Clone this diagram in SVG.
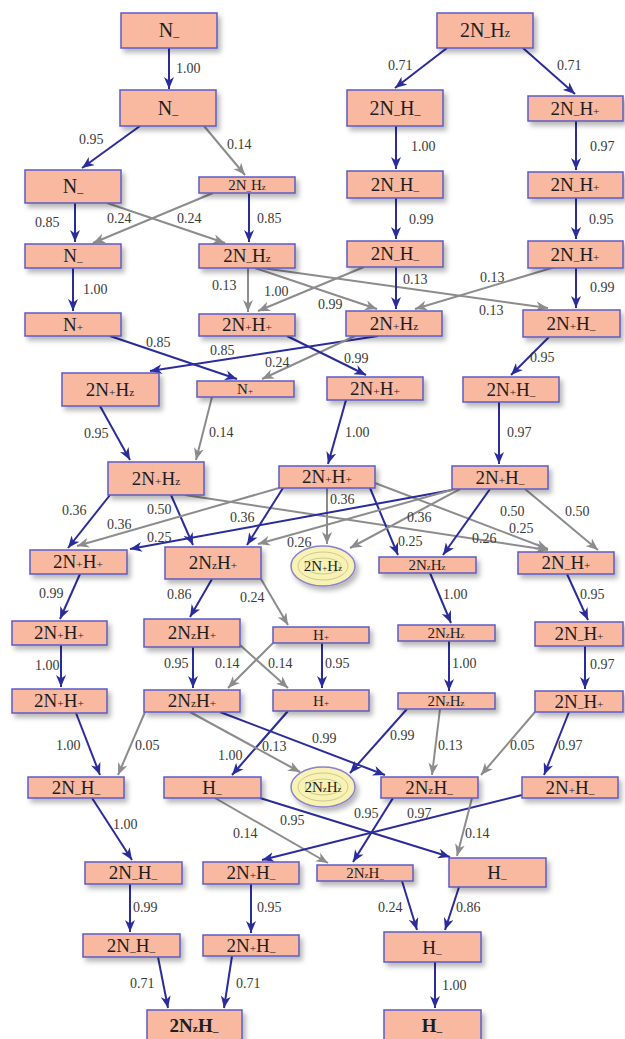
<svg xmlns="http://www.w3.org/2000/svg" width="625" height="1039" viewBox="0 0 625 1039">
<style>
text{font-family:"Liberation Serif","Times New Roman","DejaVu Serif",serif}
.node rect{fill:#f9b9a1;stroke:#5d5bc4;stroke-width:1.5;filter:url(#sh)}
.node ellipse.o{fill:#f8f3b4;stroke:#8a82cc;stroke-width:1.5;filter:url(#sh)}
.node ellipse.i{fill:none;stroke:#cfc88e;stroke-width:1}
.t{font-size:19px;text-anchor:middle;fill:#1e1e1e}
.big{font-size:20px}
.sm{font-size:15px}
.b{font-weight:bold}
.s{font-size:0.6em}
.eb{stroke:#2b2c9c;stroke-width:2;fill:none;marker-end:url(#ab)}
.eg{stroke:#8c8c8c;stroke-width:2;fill:none;marker-end:url(#ag)}
.l{font-size:14px;fill:#3a3a3a}
</style>
<defs>
<filter id="sh" x="-20%" y="-30%" width="150%" height="190%">
<feDropShadow dx="3" dy="4" stdDeviation="2.5" flood-color="#000" flood-opacity="0.28"/>
</filter>
<marker id="ab" markerUnits="userSpaceOnUse" markerWidth="12" markerHeight="10" refX="12" refY="5" orient="auto"><path d="M0,0 L12,5 L0,10 L3.5,5 Z" fill="#2b2c9c"/></marker>
<marker id="ag" markerUnits="userSpaceOnUse" markerWidth="12" markerHeight="10" refX="12" refY="5" orient="auto"><path d="M0,0 L12,5 L0,10 L3.5,5 Z" fill="#8c8c8c"/></marker>
</defs>

<g id="connectors" font-family="Liberation Serif, serif">
<line class="eb" x1="169" y1="48" x2="169" y2="89"/><text class="l" x="176" y="73">1.00</text>
<line class="eb" x1="140" y1="126" x2="82" y2="168"/><text class="l" x="79" y="144">0.95</text>
<line class="eg" x1="204" y1="126" x2="245" y2="175"/><text class="l" x="227" y="149">0.14</text>
<line class="eb" x1="447" y1="48" x2="395" y2="88"/><text class="l" x="388" y="70">0.71</text>
<line class="eb" x1="523" y1="48" x2="575" y2="94"/><text class="l" x="557" y="70">0.71</text>
<line class="eb" x1="396" y1="126" x2="396" y2="169"/><text class="l" x="411" y="151">1.00</text>
<line class="eb" x1="576" y1="121" x2="576" y2="170"/><text class="l" x="590" y="151">0.97</text>
<line class="eb" x1="75" y1="203" x2="75" y2="242"/><text class="l" x="35" y="227">0.85</text>
<line class="eg" x1="107" y1="203" x2="225" y2="243"/><text class="l" x="177" y="223">0.24</text>
<line class="eg" x1="213" y1="193" x2="93" y2="243"/><text class="l" x="107" y="223">0.24</text>
<line class="eb" x1="249" y1="193" x2="249" y2="242"/><text class="l" x="257" y="223">0.85</text>
<line class="eb" x1="396" y1="198" x2="396" y2="239"/><text class="l" x="409" y="224">0.99</text>
<line class="eb" x1="576" y1="198" x2="576" y2="239"/><text class="l" x="589" y="224">0.95</text>
<line class="eb" x1="73" y1="268" x2="73" y2="311"/><text class="l" x="83" y="294">1.00</text>
<line class="eg" x1="248" y1="268" x2="248" y2="312"/><text class="l" x="212" y="290">0.13</text>
<line class="eg" x1="255" y1="268" x2="377" y2="309"/><text class="l" x="318" y="309">0.99</text>
<line class="eg" x1="262" y1="268" x2="548" y2="308"/><text class="l" x="479" y="315">0.13</text>
<line class="eg" x1="364" y1="267" x2="258" y2="311"/><text class="l" x="264" y="296">1.00</text>
<line class="eb" x1="396" y1="267" x2="396" y2="309"/><text class="l" x="403" y="284">0.13</text>
<line class="eg" x1="555" y1="267" x2="415" y2="309"/><text class="l" x="480" y="282">0.13</text>
<line class="eb" x1="576" y1="267" x2="576" y2="308"/><text class="l" x="590" y="292">0.99</text>
<line class="eb" x1="110" y1="336" x2="237" y2="379"/><text class="l" x="146" y="347">0.85</text>
<line class="eb" x1="378" y1="336" x2="150" y2="371"/><text class="l" x="210" y="355">0.85</text>
<line class="eg" x1="355" y1="336" x2="262" y2="379"/><text class="l" x="265" y="367">0.24</text>
<line class="eb" x1="287" y1="336" x2="366" y2="375"/><text class="l" x="344" y="363">0.99</text>
<line class="eb" x1="549" y1="337" x2="511" y2="375"/><text class="l" x="530" y="362">0.95</text>
<line class="eb" x1="100" y1="406" x2="130" y2="460"/><text class="l" x="84" y="438">0.95</text>
<line class="eg" x1="212" y1="397" x2="196" y2="460"/><text class="l" x="209" y="437">0.14</text>
<line class="eb" x1="346" y1="400" x2="328" y2="464"/><text class="l" x="345" y="437">1.00</text>
<line class="eb" x1="499" y1="402" x2="499" y2="464"/><text class="l" x="507" y="437">0.97</text>
<line class="eb" x1="110" y1="495" x2="68" y2="548"/><text class="l" x="62" y="515">0.36</text>
<line class="eb" x1="171" y1="495" x2="193" y2="545"/><text class="l" x="147" y="514">0.50</text>
<line class="eg" x1="185" y1="495" x2="548" y2="550"/><text class="l" x="472" y="543">0.26</text>
<line class="eg" x1="279" y1="488" x2="77" y2="546"/><text class="l" x="107" y="529">0.36</text>
<line class="eb" x1="283" y1="488" x2="247" y2="545"/><text class="l" x="230" y="522">0.36</text>
<line class="eg" x1="327" y1="488" x2="327" y2="544"/><text class="l" x="330" y="504">0.36</text>
<line class="eb" x1="370" y1="488" x2="398" y2="555"/><text class="l" x="398" y="546">0.25</text>
<line class="eg" x1="375" y1="483" x2="548" y2="549"/><text class="l" x="509" y="533">0.25</text>
<line class="eb" x1="452" y1="490" x2="130" y2="549"/><text class="l" x="147" y="542">0.25</text>
<line class="eg" x1="455" y1="489" x2="258" y2="544"/><text class="l" x="287" y="547">0.26</text>
<line class="eg" x1="460" y1="489" x2="350" y2="548"/><text class="l" x="407" y="522">0.36</text>
<line class="eb" x1="490" y1="489" x2="443" y2="555"/><text class="l" x="500" y="516">0.50</text>
<line class="eg" x1="525" y1="489" x2="598" y2="550"/><text class="l" x="565" y="516">0.50</text>
<line class="eb" x1="80" y1="574" x2="60" y2="619"/><text class="l" x="39" y="598">0.99</text>
<line class="eb" x1="212" y1="579" x2="190" y2="617"/><text class="l" x="167" y="599">0.86</text>
<line class="eg" x1="261" y1="579" x2="288" y2="625"/><text class="l" x="240" y="602">0.24</text>
<line class="eb" x1="430" y1="573" x2="451" y2="623"/><text class="l" x="443" y="599">1.00</text>
<line class="eb" x1="567" y1="574" x2="588" y2="620"/><text class="l" x="580" y="599">0.95</text>
<line class="eb" x1="61" y1="645" x2="61" y2="687"/><text class="l" x="35" y="670">1.00</text>
<line class="eb" x1="193" y1="647" x2="193" y2="688"/><text class="l" x="164" y="668">0.95</text>
<line class="eg" x1="240" y1="645" x2="288" y2="688"/><text class="l" x="268" y="668">0.14</text>
<line class="eg" x1="273" y1="643" x2="228" y2="688"/><text class="l" x="215" y="668">0.14</text>
<line class="eb" x1="322" y1="643" x2="322" y2="688"/><text class="l" x="325" y="668">0.95</text>
<line class="eb" x1="449" y1="641" x2="449" y2="691"/><text class="l" x="452" y="668">1.00</text>
<line class="eb" x1="585" y1="646" x2="585" y2="689"/><text class="l" x="590" y="669">0.97</text>
<line class="eb" x1="76" y1="713" x2="100" y2="775"/><text class="l" x="56" y="750">1.00</text>
<line class="eg" x1="145" y1="712" x2="118" y2="775"/><text class="l" x="135" y="750">0.05</text>
<line class="eb" x1="288" y1="711" x2="232" y2="775"/><text class="l" x="218" y="760">1.00</text>
<line class="eg" x1="190" y1="712" x2="300" y2="772"/><text class="l" x="262" y="751">0.13</text>
<line class="eb" x1="220" y1="712" x2="385" y2="775"/><text class="l" x="312" y="743">0.99</text>
<line class="eb" x1="407" y1="709" x2="350" y2="773"/><text class="l" x="390" y="740">0.99</text>
<line class="eg" x1="440" y1="709" x2="432" y2="775"/><text class="l" x="438" y="750">0.13</text>
<line class="eg" x1="535" y1="712" x2="481" y2="775"/><text class="l" x="510" y="750">0.05</text>
<line class="eb" x1="569" y1="712" x2="544" y2="775"/><text class="l" x="558" y="750">0.97</text>
<line class="eb" x1="92" y1="798" x2="132" y2="860"/><text class="l" x="113" y="829">1.00</text>
<line class="eb" x1="260" y1="798" x2="450" y2="857"/><text class="l" x="280" y="825">0.95</text>
<line class="eg" x1="215" y1="798" x2="328" y2="863"/><text class="l" x="233" y="838">0.14</text>
<line class="eb" x1="393" y1="798" x2="353" y2="862"/><text class="l" x="354" y="818">0.95</text>
<line class="eb" x1="522" y1="795" x2="262" y2="860"/><text class="l" x="407" y="818">0.97</text>
<line class="eg" x1="472" y1="798" x2="457" y2="856"/><text class="l" x="465" y="838">0.14</text>
<line class="eb" x1="130" y1="884" x2="130" y2="932"/><text class="l" x="133" y="912">0.99</text>
<line class="eb" x1="251" y1="884" x2="251" y2="933"/><text class="l" x="257" y="912">0.95</text>
<line class="eb" x1="158" y1="957" x2="168" y2="1008"/><text class="l" x="130" y="988">0.71</text>
<line class="eb" x1="232" y1="956" x2="224" y2="1008"/><text class="l" x="236" y="988">0.71</text>
<line class="eb" x1="402" y1="881" x2="417" y2="930"/><text class="l" x="378" y="912">0.24</text>
<line class="eb" x1="459" y1="887" x2="445" y2="930"/><text class="l" x="456" y="912">0.86</text>
<line class="eb" x1="435" y1="962" x2="435" y2="1008"/><text class="l" x="442" y="990">1.00</text>
</g>

<g id="n1" class="node"><rect x="121" y="13" width="96" height="35"/><text class="t big" x="169" y="37">N<tspan class="s" dy="3">–</tspan></text></g>
<g id="n2" class="node"><rect x="437" y="13" width="96" height="35"/><text class="t big" x="485" y="37">2N<tspan class="s" dy="3">–</tspan><tspan dy="-3">H</tspan><tspan class="s">z</tspan></text></g>
<g id="n3" class="node"><rect x="120" y="90" width="96" height="36"/><text class="t big" x="168" y="115">N<tspan class="s" dy="3">–</tspan></text></g>
<g id="n4" class="node"><rect x="347" y="90" width="96" height="36"/><text class="t big" x="395" y="115">2N<tspan class="s" dy="3">–</tspan><tspan dy="-3">H</tspan><tspan class="s" dy="3">–</tspan></text></g>
<g id="n5" class="node"><rect x="528" y="96" width="95" height="25"/><text class="t" x="575" y="115">2N<tspan class="s" dy="3">–</tspan><tspan dy="-3">H</tspan><tspan class="s">+</tspan></text></g>
<g id="n6" class="node"><rect x="25" y="170" width="96" height="33"/><text class="t big" x="73" y="193">N<tspan class="s" dy="3">–</tspan></text></g>
<g id="n7" class="node"><rect x="199" y="177" width="96" height="16"/><text class="t sm" x="247" y="190">2N<tspan class="s" dy="3">–</tspan><tspan dy="-3">H</tspan><tspan class="s">z</tspan></text></g>
<g id="n8" class="node"><rect x="347" y="171" width="96" height="27"/><text class="t" x="395" y="191">2N<tspan class="s" dy="3">–</tspan><tspan dy="-3">H</tspan><tspan class="s" dy="3">–</tspan></text></g>
<g id="n9" class="node"><rect x="528" y="172" width="95" height="26"/><text class="t" x="575" y="191">2N<tspan class="s" dy="3">–</tspan><tspan dy="-3">H</tspan><tspan class="s">+</tspan></text></g>
<g id="n10" class="node"><rect x="25" y="244" width="96" height="24"/><text class="t" x="73" y="262">N<tspan class="s" dy="3">–</tspan></text></g>
<g id="n11" class="node"><rect x="199" y="244" width="96" height="24"/><text class="t" x="247" y="262">2N<tspan class="s" dy="3">–</tspan><tspan dy="-3">H</tspan><tspan class="s">z</tspan></text></g>
<g id="n12" class="node"><rect x="347" y="241" width="96" height="26"/><text class="t" x="395" y="260">2N<tspan class="s" dy="3">–</tspan><tspan dy="-3">H</tspan><tspan class="s" dy="3">–</tspan></text></g>
<g id="n13" class="node"><rect x="528" y="241" width="95" height="27"/><text class="t" x="575" y="261">2N<tspan class="s" dy="3">–</tspan><tspan dy="-3">H</tspan><tspan class="s">+</tspan></text></g>
<g id="n14" class="node"><rect x="25" y="313" width="96" height="23"/><text class="t" x="73" y="331">N<tspan class="s">+</tspan></text></g>
<g id="n15" class="node"><rect x="199" y="314" width="96" height="22"/><text class="t" x="247" y="331">2N<tspan class="s">+</tspan>H<tspan class="s">+</tspan></text></g>
<g id="n16" class="node"><rect x="346" y="311" width="96" height="25"/><text class="t" x="394" y="330">2N<tspan class="s">+</tspan>H<tspan class="s">z</tspan></text></g>
<g id="n17" class="node"><rect x="523" y="310" width="97" height="27"/><text class="t" x="571" y="330">2N<tspan class="s">+</tspan>H<tspan class="s" dy="3">–</tspan></text></g>
<g id="n18" class="node"><rect x="62" y="373" width="97" height="33"/><text class="t" x="110" y="396">2N<tspan class="s">+</tspan>H<tspan class="s">z</tspan></text></g>
<g id="n19" class="node"><rect x="197" y="381" width="97" height="16"/><text class="t sm" x="245" y="394">N<tspan class="s">+</tspan></text></g>
<g id="n20" class="node"><rect x="327" y="377" width="96" height="23"/><text class="t" x="375" y="395">2N<tspan class="s">+</tspan>H<tspan class="s">+</tspan></text></g>
<g id="n21" class="node"><rect x="463" y="377" width="96" height="25"/><text class="t" x="511" y="396">2N<tspan class="s">+</tspan>H<tspan class="s" dy="3">–</tspan></text></g>
<g id="n22" class="node"><rect x="108" y="462" width="96" height="33"/><text class="t" x="156" y="485">2N<tspan class="s">+</tspan>H<tspan class="s">z</tspan></text></g>
<g id="n23" class="node"><rect x="279" y="466" width="96" height="22"/><text class="t" x="327" y="483">2N<tspan class="s">+</tspan>H<tspan class="s">+</tspan></text></g>
<g id="n24" class="node"><rect x="452" y="466" width="96" height="23"/><text class="t" x="500" y="484">2N<tspan class="s">+</tspan>H<tspan class="s" dy="3">–</tspan></text></g>
<g id="n25" class="node"><rect x="30" y="550" width="97" height="24"/><text class="t" x="78" y="568">2N<tspan class="s">+</tspan>H<tspan class="s">+</tspan></text></g>
<g id="n26" class="node"><rect x="165" y="547" width="96" height="32"/><text class="t" x="213" y="569">2N<tspan class="s">z</tspan>H<tspan class="s">+</tspan></text></g>
<g id="n27" class="node"><ellipse class="o" cx="323" cy="566" rx="32" ry="20"/><ellipse class="i" cx="323" cy="566" rx="25" ry="14"/><ellipse class="i" cx="323" cy="566" rx="18" ry="8"/><text class="t sm" x="323" y="571">2N<tspan class="s">+</tspan>H<tspan class="s">z</tspan></text></g>
<g id="n28" class="node"><rect x="379" y="557" width="97" height="16"/><text class="t sm" x="427" y="570">2N<tspan class="s">z</tspan>H<tspan class="s">z</tspan></text></g>
<g id="n29" class="node"><rect x="518" y="552" width="96" height="22"/><text class="t" x="566" y="569">2N<tspan class="s" dy="3">–</tspan><tspan dy="-3">H</tspan><tspan class="s">+</tspan></text></g>
<g id="n30" class="node"><rect x="12" y="621" width="95" height="24"/><text class="t" x="59" y="639">2N<tspan class="s">+</tspan>H<tspan class="s">+</tspan></text></g>
<g id="n31" class="node"><rect x="144" y="619" width="96" height="28"/><text class="t" x="192" y="639">2N<tspan class="s">z</tspan>H<tspan class="s">+</tspan></text></g>
<g id="n32" class="node"><rect x="273" y="627" width="96" height="16"/><text class="t sm" x="321" y="640">H<tspan class="s">+</tspan></text></g>
<g id="n33" class="node"><rect x="398" y="625" width="97" height="16"/><text class="t sm" x="446" y="638">2N<tspan class="s">z</tspan>H<tspan class="s">z</tspan></text></g>
<g id="n34" class="node"><rect x="535" y="622" width="88" height="24"/><text class="t" x="579" y="640">2N<tspan class="s" dy="3">–</tspan><tspan dy="-3">H</tspan><tspan class="s">+</tspan></text></g>
<g id="n35" class="node"><rect x="12" y="689" width="95" height="24"/><text class="t" x="59" y="707">2N<tspan class="s">+</tspan>H<tspan class="s">+</tspan></text></g>
<g id="n36" class="node"><rect x="144" y="690" width="96" height="22"/><text class="t" x="192" y="707">2N<tspan class="s">z</tspan>H<tspan class="s">+</tspan></text></g>
<g id="n37" class="node"><rect x="273" y="690" width="96" height="21"/><text class="t sm" x="321" y="706">H<tspan class="s">+</tspan></text></g>
<g id="n38" class="node"><rect x="398" y="693" width="97" height="16"/><text class="t sm" x="446" y="706">2N<tspan class="s">z</tspan>H<tspan class="s">z</tspan></text></g>
<g id="n39" class="node"><rect x="535" y="691" width="88" height="21"/><text class="t" x="579" y="708">2N<tspan class="s" dy="3">–</tspan><tspan dy="-3">H</tspan><tspan class="s">+</tspan></text></g>
<g id="n40" class="node"><rect x="28" y="777" width="96" height="21"/><text class="t" x="76" y="794">2N<tspan class="s" dy="3">–</tspan><tspan dy="-3">H</tspan><tspan class="s" dy="3">–</tspan></text></g>
<g id="n41" class="node"><rect x="164" y="777" width="97" height="21"/><text class="t" x="212" y="794">H<tspan class="s" dy="3">–</tspan></text></g>
<g id="n42" class="node"><ellipse class="o" cx="323" cy="787" rx="32" ry="20"/><ellipse class="i" cx="323" cy="787" rx="25" ry="14"/><ellipse class="i" cx="323" cy="787" rx="18" ry="8"/><text class="t sm" x="323" y="792">2N<tspan class="s">z</tspan>H<tspan class="s">z</tspan></text></g>
<g id="n43" class="node"><rect x="381" y="777" width="97" height="21"/><text class="t" x="429" y="794">2N<tspan class="s">z</tspan>H<tspan class="s" dy="3">–</tspan></text></g>
<g id="n44" class="node"><rect x="522" y="777" width="96" height="21"/><text class="t" x="570" y="794">2N<tspan class="s">+</tspan>H<tspan class="s" dy="3">–</tspan></text></g>
<g id="n45" class="node"><rect x="85" y="862" width="97" height="22"/><text class="t" x="133" y="879">2N<tspan class="s" dy="3">–</tspan><tspan dy="-3">H</tspan><tspan class="s" dy="3">–</tspan></text></g>
<g id="n46" class="node"><rect x="203" y="862" width="96" height="22"/><text class="t" x="251" y="879">2N<tspan class="s">+</tspan>H<tspan class="s" dy="3">–</tspan></text></g>
<g id="n47" class="node"><rect x="317" y="865" width="96" height="16"/><text class="t sm" x="365" y="878">2N<tspan class="s">z</tspan>H<tspan class="s" dy="3">–</tspan></text></g>
<g id="n48" class="node"><rect x="449" y="858" width="97" height="29"/><text class="t" x="497" y="879">H<tspan class="s" dy="3">–</tspan></text></g>
<g id="n49" class="node"><rect x="83" y="934" width="97" height="23"/><text class="t" x="131" y="952">2N<tspan class="s" dy="3">–</tspan><tspan dy="-3">H</tspan><tspan class="s" dy="3">–</tspan></text></g>
<g id="n50" class="node"><rect x="203" y="935" width="96" height="21"/><text class="t" x="251" y="952">2N<tspan class="s">+</tspan>H<tspan class="s" dy="3">–</tspan></text></g>
<g id="n51" class="node"><rect x="384" y="932" width="97" height="30"/><text class="t" x="432" y="954">H<tspan class="s" dy="3">–</tspan></text></g>
<g id="n52" class="node"><rect x="147" y="1010" width="95" height="30"/><text class="t b" x="194" y="1032">2N<tspan class="s">z</tspan>H<tspan class="s" dy="3">–</tspan></text></g>
<g id="n53" class="node"><rect x="384" y="1010" width="97" height="30"/><text class="t b" x="432" y="1032">H<tspan class="s" dy="3">–</tspan></text></g>
</svg>
